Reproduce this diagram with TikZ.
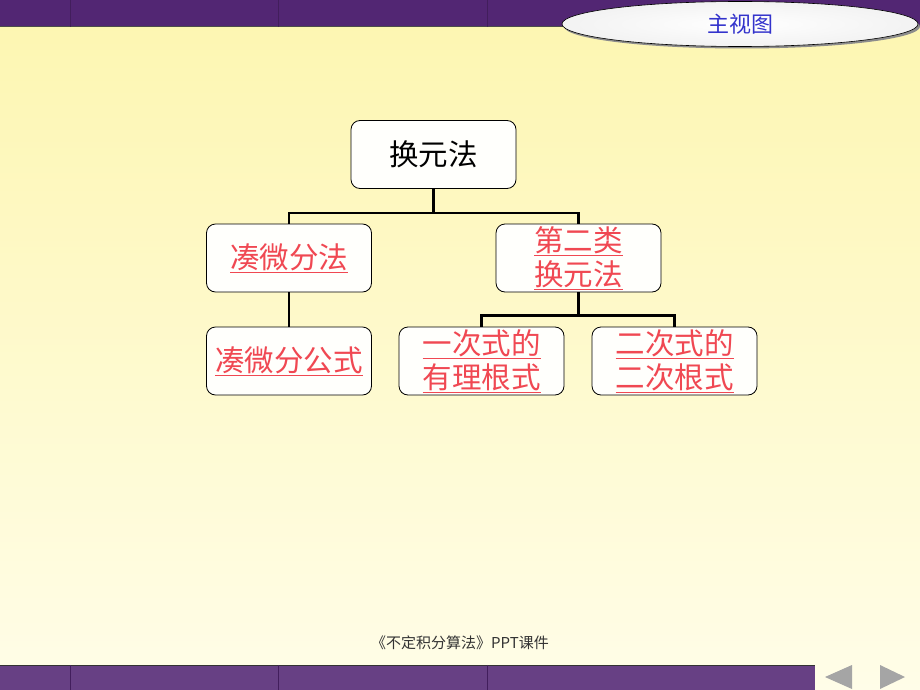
\documentclass[tikz,border=0pt]{standalone}
\usepackage{fontspec}
\newfontfamily\cjk{Noto Sans CJK SC}
\usetikzlibrary{shapes.geometric}
\definecolor{bgtop}{RGB}{253,246,176}
\definecolor{bgbot}{RGB}{255,253,232}
\definecolor{band}{RGB}{82,38,115}
\definecolor{linkred}{RGB}{240,72,82}
\definecolor{titleblue}{RGB}{51,51,204}
\definecolor{navgray}{RGB}{165,165,165}
\newcommand{\ul}[1]{\underline{#1}}
\tikzset{
  box/.style={draw=black, line width=0.8pt, rounded corners=9pt, fill=white!85!bgbot,
    minimum width=165pt, minimum height=68pt, inner sep=0pt, align=center,
    font=\cjk\fontsize{29.5}{34}\selectfont},
  redtxt/.style={text=linkred},
  conn/.style={line width=2.6pt, black},
}
\begin{document}
\begin{tikzpicture}[x=1pt,y=-1pt]
\useasboundingbox (0,0) rectangle (920,690);
% background
\shade[top color=bgtop, bottom color=bgbot] (0,0) rectangle (920,690);
% top band
\fill[band] (0,0) rectangle (920,27);
\draw[black!70, line width=1pt] (0,27) -- (920,27);
\foreach \xx in {70,278,487}{\draw[band!80!black, line width=0.4pt] (\xx,0) -- (\xx,27);}
% bottom band
\fill[band!88!white] (0,665) rectangle (815,690);
\draw[black!80, line width=1pt] (0,665) -- (815,665);
\foreach \xx in {70,278,487}{\draw[band!80!black, line width=0.4pt] (\xx,665) -- (\xx,690);}
% nav arrows
\fill[navgray] (825,677) -- (852,665) -- (852,689) -- cycle;
\fill[navgray] (905,677) -- (880,665) -- (880,689) -- cycle;
% title ellipse
\fill[black!45] (742,26.5) ellipse (178 and 22);
\shade[inner color=white, outer color=black!5, draw=black, line width=0.6pt] (740,24) ellipse (178 and 22.5);
\node[text=titleblue, font=\cjk\fontsize{22}{24}\selectfont] (title) at (740,24) {主视图};
% boxes
\node[box] (root) at (433.5,154.5) {换元法};
\node[box, redtxt] (a) at (289,258) {\ul{凑微分法}};
\node[box, redtxt] (b) at (578.5,258) {\ul{第二类}\\\ul{换元法}};
\node[box, redtxt] (a1) at (289,361) {\ul{凑微分公式}};
\node[box, redtxt] (b1) at (481.5,361) {\ul{一次式的}\\\ul{有理根式}};
\node[box, redtxt] (b2) at (674.5,361) {\ul{二次式的}\\\ul{二次根式}};
% connectors
\draw[conn] (root.south) -- ++(0,24) coordinate (j1);
\draw[conn] (a.north) |- (j1) -| (b.north);
\draw[conn] (a.south) -- (a1.north);
\draw[conn] (b.south) -- ++(0,23) coordinate (j2);
\draw[conn] (b1.north) |- (j2) -| (b2.north);
% footer
\node[text=black!80, font=\cjk\fontsize{15}{17}\selectfont] (foot) at (460,643) {《不定积分算法》PPT课件};
\end{tikzpicture}
\end{document}
